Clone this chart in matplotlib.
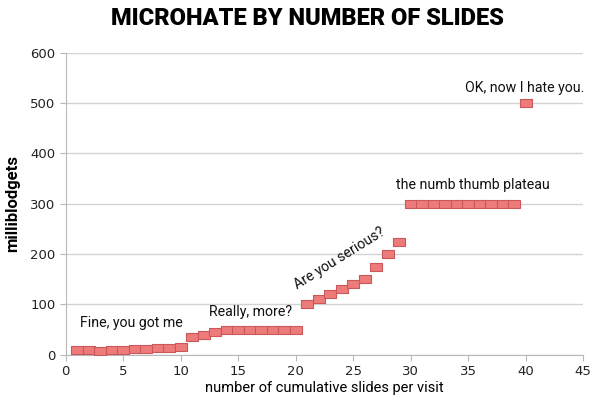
import numpy as np
import matplotlib
matplotlib.use("Agg")
import matplotlib.pyplot as plt
from matplotlib.path import Path

# Data
slides = list(range(1, 41))
hate = [10, 9, 8, 9, 10, 11, 12, 13, 14, 15,
        35, 40, 45, 50, 50, 50, 50, 50, 50, 50,
        100, 110, 120, 130, 140, 150, 175, 200, 225, 300,
        300, 300, 300, 300, 300, 300, 300, 300, 300, 500]

notes = ["Fine, you got me", "Really, more?", "Are you serious?",
         "the numb thumb plateau", "OK, now I hate you."]
note_x = [1.2, 12.5, 23.8, 28.7, 39.9]
note_y = [63, 85, 192, 337, 530]
note_rot = [0, 0, 32, 0, 0]
note_ha = ["left", "left", "center", "left", "center"]

xticks = list(range(0, 50, 5))
yticks = list(range(0, 700, 100))

narrow = ["Roboto", "DejaVu Sans"]

fig = plt.figure(figsize=(6.15, 3.97), dpi=100)
ax = fig.add_axes([0.107, 0.1065, 0.841, 0.7605])

# wide flat rectangle marker
rect = Path([(-1, -0.7), (1, -0.7), (1, 0.7), (-1, 0.7), (-1, -0.7)],
            [Path.MOVETO, Path.LINETO, Path.LINETO, Path.LINETO, Path.CLOSEPOLY])
ax.plot(slides, hate, linestyle="none", marker=rect, markersize=8.3,
        markerfacecolor="#ec7b79", markeredgecolor="#c9585a", markeredgewidth=0.8,
        zorder=3)

for t, x, y, r, ha in zip(notes, note_x, note_y, note_rot, note_ha):
    ax.text(x, y, t, rotation=r, ha=ha, va="center", fontsize=10.2,
            family=narrow, color="#111111")

ax.set_xlim(0, 45)
ax.set_ylim(0, 600)
ax.set_xticks(xticks)
ax.set_yticks(yticks)
ax.yaxis.grid(True, color="#d3d3d3", linewidth=1)
ax.set_axisbelow(True)
for s in ["top", "right"]:
    ax.spines[s].set_visible(False)
for s in ["left", "bottom"]:
    ax.spines[s].set_color("#b8b8b8")
ax.tick_params(axis="both", colors="#b8b8b8", labelcolor="#222222",
               labelsize=9.5, length=4)

ax.set_xlabel("number of cumulative slides per visit", family=narrow,
              fontsize=10.5, labelpad=2)
ax.set_ylabel("milliblodgets", family=narrow, fontsize=12,
              fontweight="bold", labelpad=7)

fig.text(0.5, 0.953, "MICROHATE BY NUMBER OF SLIDES", ha="center", va="center",
         fontsize=17, fontweight="black", family=narrow)

fig.savefig("out.png", dpi=100)
